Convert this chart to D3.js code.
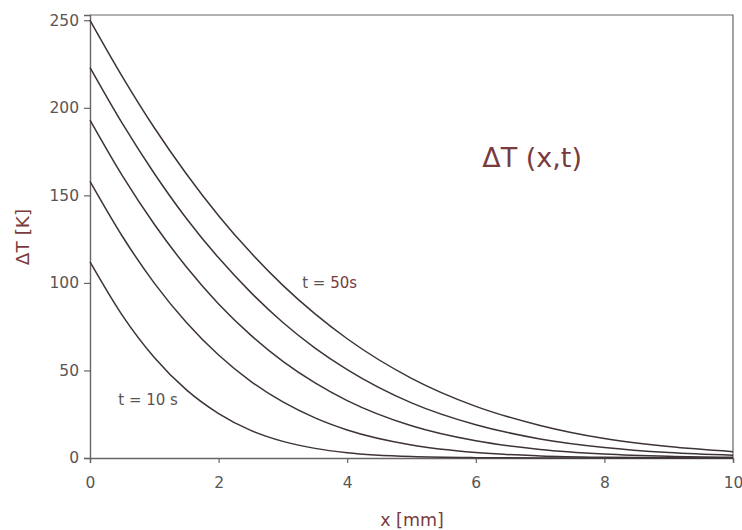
<!DOCTYPE html>
<html>
<head>
<meta charset="utf-8">
<script src="https://cdn.jsdelivr.net/npm/d3@7.9.0/dist/d3.min.js"></script>
<style>
  body { margin: 0; background: #fff; }
  svg { display: block; font-family: "DejaVu Sans", sans-serif; }
</style>
</head>
<body>
<div id="chart"></div>
<script>
// depth x in mm, temperature rise in K, one array per time step
const xMm  = [0, 0.5, 1, 1.5, 2, 2.5, 3, 3.5, 4, 5, 6, 7, 8, 9, 10];
const dT10 = [112, 81.6, 57.4, 38.9, 25.4, 15.8, 9.5, 5.5, 3.0, 0.8, 0.2, 0.03, 0, 0, 0];
const dT20 = [158, 126.8, 99.9, 77.4, 58.8, 43.8, 32.0, 22.9, 16.0, 7.4, 3.1, 1.2, 0.4, 0.1, 0.04];
const dT30 = [193, 161.4, 133.5, 109.1, 88.0, 70.2, 55.2, 42.9, 32.8, 18.4, 9.8, 4.9, 2.3, 1.0, 0.4];
const dT40 = [223, 191.2, 162.5, 136.8, 114.3, 94.6, 77.4, 62.8, 50.5, 31.5, 19.0, 10.9, 6.0, 3.1, 1.6];
const dT50 = [250, 218.0, 188.6, 162.2, 138.4, 117.3, 98.6, 82.3, 68.1, 45.5, 29.5, 18.6, 11.1, 6.5, 3.6];

const xTicks = [0, 2, 4, 6, 8, 10];
const yTicks = [0, 50, 100, 150, 200, 250];

const width = 742;
const height = 530;
const margin = { top: 15, right: 9, bottom: 72, left: 90 };

const font = '"DejaVu Sans", sans-serif';
const axisColor = '#6a6464';
const labelColor = '#5a5555';
const redBrown = '#7a3b3e';
const curveColor = '#3e3336';

const svg = d3.select('#chart')
  .append('svg')
  .attr('width', width)
  .attr('height', height);

const xScale = d3.scaleLinear()
  .domain([0, 10])
  .range([margin.left, width - margin.right]);

const yScale = d3.scaleLinear()
  .domain([0, 253])
  .range([height - margin.bottom, margin.top]);

// frame (top + right)
svg.append('path')
  .attr('d', `M${xScale(0)},${yScale(253)}H${xScale(10)}V${yScale(0)}`)
  .attr('fill', 'none')
  .attr('stroke', axisColor)
  .attr('stroke-width', 1.2);

// x axis
const xAxis = svg.append('g')
  .attr('transform', `translate(0,${yScale(0)})`)
  .call(d3.axisBottom(xScale).tickValues(xTicks).tickSize(5).tickPadding(14).tickFormat(d3.format('d')));

// y axis
const yAxis = svg.append('g')
  .attr('transform', `translate(${xScale(0)},0)`)
  .call(d3.axisLeft(yScale).tickValues(yTicks).tickSize(6).tickPadding(5).tickFormat(d3.format('d')));

[xAxis, yAxis].forEach((g) => {
  g.selectAll('.domain').attr('stroke', axisColor).attr('stroke-width', 1.4);
  g.selectAll('.tick line').attr('stroke', axisColor).attr('stroke-width', 1.2);
  g.selectAll('.tick text')
    .attr('fill', labelColor)
    .style('font-size', '15.5px')
    .style('font-family', font);
});

// curves
const series = [dT10, dT20, dT30, dT40, dT50];
const line = d3.line()
  .x((d, i) => xScale(xMm[i]))
  .y((d) => yScale(d))
  .curve(d3.curveMonotoneX);

svg.append('g')
  .selectAll('path')
  .data(series)
  .join('path')
  .attr('d', line)
  .attr('fill', 'none')
  .attr('stroke', curveColor)
  .attr('stroke-width', 1.5);

// axis titles
svg.append('text')
  .attr('x', 412)
  .attr('y', 526)
  .attr('text-anchor', 'middle')
  .attr('fill', redBrown)
  .style('font-size', '17.5px')
  .text('x [mm]');

svg.append('text')
  .attr('transform', 'translate(29,237) rotate(-90)')
  .attr('text-anchor', 'middle')
  .attr('fill', redBrown)
  .style('font-size', '18.5px')
  .text('ΔT [K]');

// annotations
svg.append('text')
  .attr('x', xScale(6.1))
  .attr('y', yScale(166))
  .attr('fill', redBrown)
  .style('font-size', '27px')
  .text('ΔT (x,t)');

const t50 = svg.append('text')
  .attr('x', xScale(3.3))
  .attr('y', yScale(97))
  .attr('fill', labelColor)
  .style('font-size', '15px');
t50.append('tspan').text('t = ');
t50.append('tspan').attr('fill', redBrown).text('50s');

svg.append('text')
  .attr('x', xScale(0.44))
  .attr('y', yScale(30))
  .attr('fill', labelColor)
  .style('font-size', '15px')
  .text('t = 10 s');
</script>
</body>
</html>
